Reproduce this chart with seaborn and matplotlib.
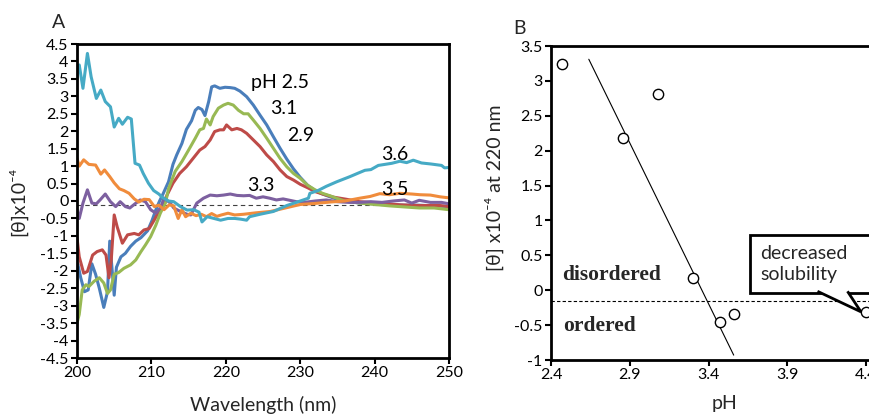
import numpy as np
import pandas as pd
import matplotlib
matplotlib.use("Agg")
import matplotlib.pyplot as plt
import seaborn as sns
from matplotlib.patches import Polygon, Rectangle
from matplotlib.ticker import FuncFormatter, MultipleLocator
from matplotlib.transforms import IdentityTransform

# ------------------------------------------------------------------
# Panel A: CD spectra, [theta] x 10^-4 vs wavelength
# ------------------------------------------------------------------
wl_25 = [200.0, 200.1, 200.5, 201.0, 201.5, 202.0, 202.5, 203.0, 203.6, 204.1, 204.4, 205.0,
         205.3, 205.9, 206.5, 207.2, 207.9, 208.6, 209.5, 210.1, 210.6, 211.1, 211.6, 212.3,
         212.9, 213.4, 214.1, 214.7, 215.4, 215.9, 216.3, 216.8, 217.2, 217.7, 218.1, 218.5,
         219.2, 219.9, 220.6, 221.2, 221.9, 222.8, 223.7, 224.6, 225.5, 226.4, 227.3, 228.2,
         229.1, 230.0, 231.0, 232.0, 233.0, 234.0, 235.0, 236.0, 238.0, 240.0, 242.0, 244.0,
         246.0, 248.0, 250.0]
th_25 = [-1.9, -1.8, -2.2, -2.6, -2.55, -1.8, -2.1, -2.5, -3.05, -2.6, -1.15, -2.7,
         -1.9, -1.6, -1.5, -1.3, -1.15, -1.05, -0.85, -0.55, -0.25, 0.0, 0.22, 0.55,
         1.05, 1.32, 1.65, 2.05, 2.3, 2.6, 2.68, 2.62, 2.45, 2.85, 3.27, 3.3,
         3.23, 3.26, 3.25, 3.23, 3.15, 2.99, 2.75, 2.46, 2.18, 1.84, 1.51, 1.2,
         0.92, 0.68, 0.45, 0.3, 0.2, 0.12, 0.05, 0.0, -0.06, -0.08, -0.1, -0.12,
         -0.12, -0.14, -0.16]

wl_29 = [200.0, 200.3, 200.9, 201.4, 202.1, 202.7, 203.4, 203.9, 204.3, 204.6, 205.0, 205.4,
         206.1, 206.8, 207.7, 208.3, 209.0, 209.7, 210.4, 211.0, 211.6, 212.1, 212.9, 213.8,
         214.7, 215.6, 216.5, 217.2, 217.9, 218.5, 219.2, 219.7, 220.1, 220.8, 221.5, 222.1,
         222.8, 223.7, 224.6, 225.5, 226.4, 227.3, 228.2, 229.1, 230.0, 231.0, 232.0, 233.0,
         234.5, 236.2, 238.0, 240.7, 243.4, 246.1, 248.8, 250.0]
th_29 = [-1.05, -1.6, -2.07, -2.02, -1.55, -1.45, -1.4, -1.55, -2.2, -1.7, -0.4, -0.74,
         -1.21, -0.97, -0.93, -0.97, -0.83, -0.79, -0.54, -0.3, -0.1, 0.17, 0.51, 0.79,
         0.98, 1.22, 1.46, 1.56, 1.75, 1.99, 2.04, 2.04, 2.18, 2.04, 2.08, 2.04,
         1.94, 1.75, 1.56, 1.32, 1.13, 0.89, 0.7, 0.6, 0.48, 0.38, 0.27, 0.2,
         0.11, 0.05, -0.02, -0.06, -0.11, -0.13, -0.13, -0.16]

wl_31 = [200.0, 200.3, 200.7, 201.2, 201.6, 202.3, 203.0, 203.6, 204.1, 204.5, 205.0, 205.6,
         206.3, 207.2, 207.9, 208.6, 209.2, 209.9, 210.6, 211.2, 211.9, 212.3, 213.2, 214.1,
         215.0, 215.9, 216.5, 217.0, 217.4, 217.9, 218.3, 219.0, 219.7, 220.3, 221.0, 221.7,
         222.4, 223.0, 223.7, 224.6, 225.5, 226.4, 227.3, 228.2, 229.1, 230.0, 231.0, 232.0,
         233.0, 234.0, 235.0, 236.0, 238.0, 240.0, 242.0, 244.0, 246.0, 248.0, 250.0]
th_31 = [-3.5, -3.25, -2.55, -2.4, -2.45, -2.3, -2.2, -2.35, -2.65, -2.55, -2.1, -2.05,
         -1.93, -1.83, -1.69, -1.45, -1.26, -1.02, -0.69, -0.35, -0.05, 0.35, 0.85, 1.13,
         1.46, 1.8, 2.04, 2.08, 2.35, 2.18, 2.42, 2.66, 2.75, 2.8, 2.75, 2.6,
         2.5, 2.5, 2.32, 2.08, 1.8, 1.51, 1.22, 0.98, 0.79, 0.65, 0.45, 0.32,
         0.22, 0.15, 0.07, 0.0, -0.06, -0.1, -0.14, -0.17, -0.2, -0.2, -0.25]

wl_33 = [200.0, 200.3, 200.8, 201.4, 202.0, 202.6, 203.1, 203.8, 204.5, 205.2, 205.8, 206.5,
         207.1, 207.8, 208.5, 209.2, 209.9, 210.6, 211.2, 211.7, 212.5, 213.0, 213.9, 214.8,
         215.3, 216.1, 217.0, 217.9, 218.8, 219.7, 220.6, 221.5, 222.4, 223.2, 224.1, 225.0,
         225.9, 226.8, 227.7, 228.6, 229.5, 230.5, 232.0, 233.5, 235.0, 236.5, 238.0, 239.5,
         241.0, 242.5, 244.0, 245.0, 246.0, 247.5, 249.0, 250.0]
th_33 = [-0.26, -0.5, -0.06, 0.32, -0.06, -0.08, 0.03, 0.2, -0.02, -0.16, -0.02, -0.16,
         -0.2, -0.08, 0.03, -0.02, -0.25, -0.35, -0.2, 0.08, -0.05, -0.2, -0.3, -0.38,
         -0.4, -0.06, 0.08, 0.17, 0.15, 0.17, 0.2, 0.16, 0.15, 0.16, 0.08, 0.12,
         0.08, 0.03, 0.06, 0.02, -0.02, -0.04, 0.0, 0.03, -0.02, -0.04, -0.04, -0.02,
         -0.04, 0.0, 0.03, -0.06, 0.02, -0.04, -0.04, -0.08]

wl_35 = [200.0, 200.3, 200.9, 201.6, 202.5, 203.2, 203.7, 204.4, 205.0, 205.7, 206.3, 207.0,
         207.7, 208.3, 209.0, 209.7, 210.4, 211.0, 211.7, 212.4, 213.0, 213.6, 214.1, 214.6,
         215.3, 216.0, 216.7, 217.4, 218.1, 218.8, 219.4, 220.3, 221.2, 222.4, 224.0, 226.0,
         228.0, 230.0, 232.0, 234.0, 236.0, 238.0, 239.4, 240.7, 242.0, 243.4, 245.0, 246.1,
         247.5, 248.8, 250.0]
th_35 = [1.22, 1.0, 1.18, 1.05, 1.03, 0.77, 0.89, 0.7, 0.52, 0.35, 0.3, 0.22,
         0.06, -0.03, 0.05, 0.04, -0.16, -0.12, -0.25, -0.11, -0.14, -0.5, -0.25, -0.45,
         -0.35, -0.42, -0.38, -0.45, -0.36, -0.44, -0.4, -0.35, -0.4, -0.38, -0.34, -0.3,
         -0.2, -0.1, -0.07, -0.03, 0.0, 0.08, 0.13, 0.21, 0.18, 0.22, 0.2, 0.18,
         0.17, 0.12, 0.09]

wl_36 = [200.0, 200.1, 200.3, 200.8, 201.4, 201.9, 202.6, 203.2, 203.8, 204.5, 205.0, 205.6,
         206.1, 206.8, 207.3, 207.8, 208.4, 208.9, 209.6, 210.3, 211.0, 211.5, 212.3, 213.0,
         213.9, 214.8, 215.7, 216.4, 216.8, 217.5, 218.4, 219.3, 220.3, 221.2, 222.0, 222.8,
         223.2, 224.6, 226.4, 228.2, 230.0, 231.1, 231.3, 232.4, 233.5, 234.9, 236.7, 237.8,
         238.7, 239.5, 240.5, 242.3, 243.4, 244.3, 245.2, 246.3, 247.6, 249.0, 249.4, 250.0]
th_36 = [3.5, 3.85, 3.9, 3.23, 4.23, 3.56, 2.94, 3.18, 2.85, 2.7, 2.12, 2.37,
         2.2, 2.4, 2.35, 1.08, 1.03, 0.79, 0.51, 0.3, 0.2, 0.1, 0.0, -0.02,
         -0.16, -0.26, -0.25, -0.32, -0.6, -0.45, -0.5, -0.55, -0.5, -0.5, -0.52, -0.55,
         -0.45, -0.38, -0.3, -0.13, 0.0, 0.08, 0.22, 0.3, 0.42, 0.55, 0.7, 0.8,
         0.88, 0.9, 1.02, 1.08, 1.14, 1.1, 1.17, 1.09, 1.06, 1.02, 0.95, 0.96]

ph_labels = ["2.5", "2.9", "3.1", "3.3", "3.5", "3.6"]
spectra = {"2.5": (wl_25, th_25), "2.9": (wl_29, th_29), "3.1": (wl_31, th_31),
           "3.3": (wl_33, th_33), "3.5": (wl_35, th_35), "3.6": (wl_36, th_36)}
colors = {"2.5": "#4A7EBB", "2.9": "#BE4B48", "3.1": "#98B954",
          "3.3": "#7D60A0", "3.5": "#F08C3C", "3.6": "#46AAC5"}

# curve labels inside panel A (text, wavelength, theta)
curve_text = ["pH 2.5", "3.1", "2.9", "3.6", "3.3", "3.5"]
curve_text_x = [223.4, 225.9, 228.2, 240.9, 222.8, 240.9]
curve_text_y = [3.41, 2.64, 1.89, 1.32, 0.43, 0.32]
baseline_a = -0.11

# ------------------------------------------------------------------
# Panel B: [theta] at 220 nm vs pH
# ------------------------------------------------------------------
ph_pts = [2.47, 2.86, 3.08, 3.30, 3.47, 3.56, 4.40]
theta_pts = [3.24, 2.18, 2.81, 0.18, -0.46, -0.34, -0.31]
trend_ph = [2.64, 3.56]
trend_theta = [3.31, -0.93]
baseline_b = -0.15
ph_ticks = [2.4, 2.9, 3.4, 3.9, 4.4]

# ------------------------------------------------------------------
sns.set_theme(style="white")
plt.rcParams["font.family"] = ["Lato", "DejaVu Sans"]
plt.rcParams["axes.unicode_minus"] = False

fig = plt.figure(figsize=(8.69, 4.18), dpi=100)
ax_a = fig.add_axes([77 / 869, 1 - 358 / 418, 372 / 869, 314 / 418])
ax_b = fig.add_axes([551 / 869, 1 - 360 / 418, 346.5 / 869, 314 / 418])

fmt = FuncFormatter(lambda v, p: f"{v:g}")

# ---- panel A
rows = []
for ph in ph_labels:
    w, t = spectra[ph]
    rows.append(pd.DataFrame({"wl": w, "theta": t, "pH": ph}))
df_a = pd.concat(rows, ignore_index=True)

ax_a.axhline(baseline_a, color="#404040", lw=0.8, ls=(0, (4, 3)), zorder=1)
sns.lineplot(data=df_a, x="wl", y="theta", hue="pH", palette=colors, hue_order=ph_labels,
             estimator=None, sort=False, legend=False, linewidth=2.2, ax=ax_a)

for txt, x, y in zip(curve_text, curve_text_x, curve_text_y):
    ax_a.text(x, y, txt, fontsize=14, ha="left", va="center", color="black")

ax_a.set_xlim(200, 250)
ax_a.set_ylim(-4.5, 4.5)
ax_a.xaxis.set_major_locator(MultipleLocator(10))
ax_a.yaxis.set_major_locator(MultipleLocator(0.5))
ax_a.yaxis.set_major_formatter(fmt)
ax_a.set_xlabel("Wavelength (nm)", fontsize=14)
ax_a.set_ylabel("[θ]x10⁻⁴", fontsize=14)
ax_a.xaxis.set_label_coords(0.5, -0.12)
ax_a.yaxis.set_label_coords(-0.135, 0.5)

# ---- panel B
ax_b.axhline(baseline_b, color="black", lw=0.8, ls=(0, (3, 2)), zorder=1)
sns.lineplot(x=trend_ph, y=trend_theta, color="black", linewidth=0.8, ax=ax_b)
sns.scatterplot(x=ph_pts, y=theta_pts, marker="o", s=55, facecolor="white",
                edgecolor="black", linewidth=1.0, ax=ax_b, zorder=3, clip_on=False)

serif = ["Liberation Serif", "Times New Roman", "DejaVu Serif"]
ax_b.text(2.47, 0.22, "disordered", fontsize=15.5, fontweight="bold",
          family=serif, ha="left", va="center")
ax_b.text(2.475, -0.51, "ordered", fontsize=15.5, fontweight="bold",
          family=serif, ha="left", va="center")

ax_b.set_xlim(2.4, 4.6)
ax_b.set_ylim(-1, 3.5)
ax_b.set_xticks(ph_ticks)
ax_b.yaxis.set_major_locator(MultipleLocator(0.5))
ax_b.xaxis.set_major_formatter(fmt)
ax_b.yaxis.set_major_formatter(fmt)
ax_b.set_xlabel("pH", fontsize=14)
ax_b.set_ylabel("[θ] x10⁻⁴ at 220 nm", fontsize=14)
ax_b.xaxis.set_label_coords(0.5, -0.11)
ax_b.yaxis.set_label_coords(-0.135, 0.55)

for ax in (ax_a, ax_b):
    for sp in ax.spines.values():
        sp.set_color("black")
        sp.set_linewidth(2)
    ax.tick_params(axis="both", which="major", direction="out", length=4, width=1.5,
                   labelsize=11.5, colors="black", bottom=True, left=True, pad=2)
    ax.grid(False)

fig.text(52 / 869, 1 - 23 / 418, "A", fontsize=14, ha="left", va="center")
fig.text(513 / 869, 1 - 28 / 418, "B", fontsize=14, ha="left", va="center")

# ---- callout "decreased solubility" (box runs off the right edge like the original)
note = fig.text(3.73, 0.38, "decreased\nsolubility", transform=ax_b.transData,
                fontsize=14, ha="left", va="center", linespacing=1.3, zorder=6)
fig.canvas.draw()
ext = note.get_window_extent(fig.canvas.get_renderer())
bx0, by0, by1 = ext.x0 - 10, ext.y0 - 10, ext.y1 + 10
box = Rectangle((bx0, by0), fig.bbox.width + 40 - bx0, by1 - by0, transform=IdentityTransform(),
                fc="white", ec="black", lw=2, zorder=4)
fig.add_artist(box)
tip = ax_b.transData.transform((ph_pts[-1], theta_pts[-1])) - np.array([5.0, 0.0])
pointer = Polygon([(bx0 + 67, by0 + 1.5), tuple(tip), (bx0 + 97, by0 + 1.5)], closed=False,
                  transform=IdentityTransform(), fc="white", ec="black", lw=2, zorder=5)
fig.add_artist(pointer)

fig.savefig("out.png", dpi=100)
